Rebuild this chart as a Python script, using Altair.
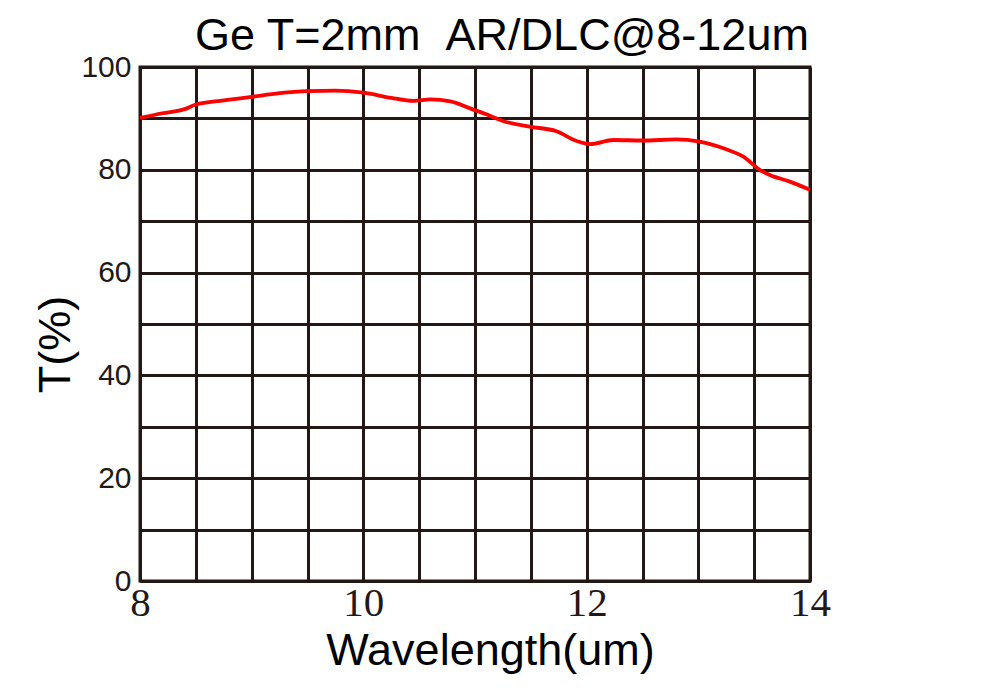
import altair as alt
import pandas as pd

wavelength = [8.0, 8.2, 8.4, 8.5, 8.75, 9.0, 9.25, 9.5, 9.75, 10.0, 10.25, 10.45, 10.6,
              10.78, 10.95, 11.1, 11.25, 11.49, 11.73, 11.91, 12.03, 12.24, 12.5, 12.8,
              13.01, 13.25, 13.4, 13.55, 13.64, 13.82, 14.0]
transmission = [90.1, 91.0, 91.8, 92.7, 93.5, 94.2, 94.9, 95.3, 95.4, 95.0, 94.0, 93.4, 93.7,
                93.3, 92.0, 90.8, 89.5, 88.4, 87.5, 85.6, 85.0, 85.8, 85.7, 85.9,
                85.5, 84.0, 82.6, 80.0, 79.0, 77.7, 76.1]

x_grid = [8 + 0.5 * i for i in range(13)]
y_grid = [10 * i for i in range(11)]

title_text = ["Ge T=2mm \u00a0AR/DLC@8-12um"]

df = pd.DataFrame({"wl": wavelength, "T": transmission})
tdf = pd.DataFrame({"t": title_text})

GRID = "#231815"

line = alt.Chart(df).mark_line(color="#ff0000", strokeWidth=3.8, interpolate="monotone").encode(
    x=alt.X("wl:Q", scale=alt.Scale(domain=[8, 14], nice=False, zero=False),
            axis=alt.Axis(values=x_grid, title="Wavelength(um)",
                          labelExpr="datum.value % 2 == 0 ? format(datum.value, 'd') : ''",
                          labelFont="Liberation Serif", labelFontSize=41, labelColor="#231815",
                          labelPadding=2, labelFlush=False,
                          titleFont="Liberation Sans", titleFontSize=45, titleFontWeight="normal",
                          titleColor="#000000", titleX=350, titleY=83, titleBaseline="alphabetic",
                          titleAlign="center")),
    y=alt.Y("T:Q", scale=alt.Scale(domain=[0, 100], nice=False),
            axis=alt.Axis(values=y_grid, title="T(%)",
                          labelExpr="datum.value % 20 == 0 ? datum.label : ''",
                          labelFont="Liberation Sans", labelFontSize=30, labelColor="#231815",
                          labelPadding=9, labelFlush=False,
                          titleFont="Liberation Sans", titleFontSize=45, titleFontWeight="normal",
                          titleColor="#000000", titleX=-62, titleY=277, titleBaseline="bottom",
                          titleAlign="center", titleAngle=-90)),
)

title = alt.Chart(tdf).mark_text(font="Liberation Sans", fontSize=45, color="#000000",
                                 align="center", baseline="alphabetic").encode(
    text="t:N", x=alt.value(362), y=alt.value(-17)
)

chart = alt.layer(line, title).properties(
    width=670,
    height=514,
    padding={"left": 132, "top": 59, "right": 180, "bottom": 100},
    autosize=alt.AutoSizeParams(type="none"),
).configure_axis(
    grid=True, gridColor=GRID, gridWidth=3, gridOpacity=1,
    domainColor=GRID, domainWidth=3, ticks=False,
).configure_view(
    stroke=GRID, strokeWidth=3
)

chart.save("out.html", embed_options={"renderer": "svg", "actions": False})
